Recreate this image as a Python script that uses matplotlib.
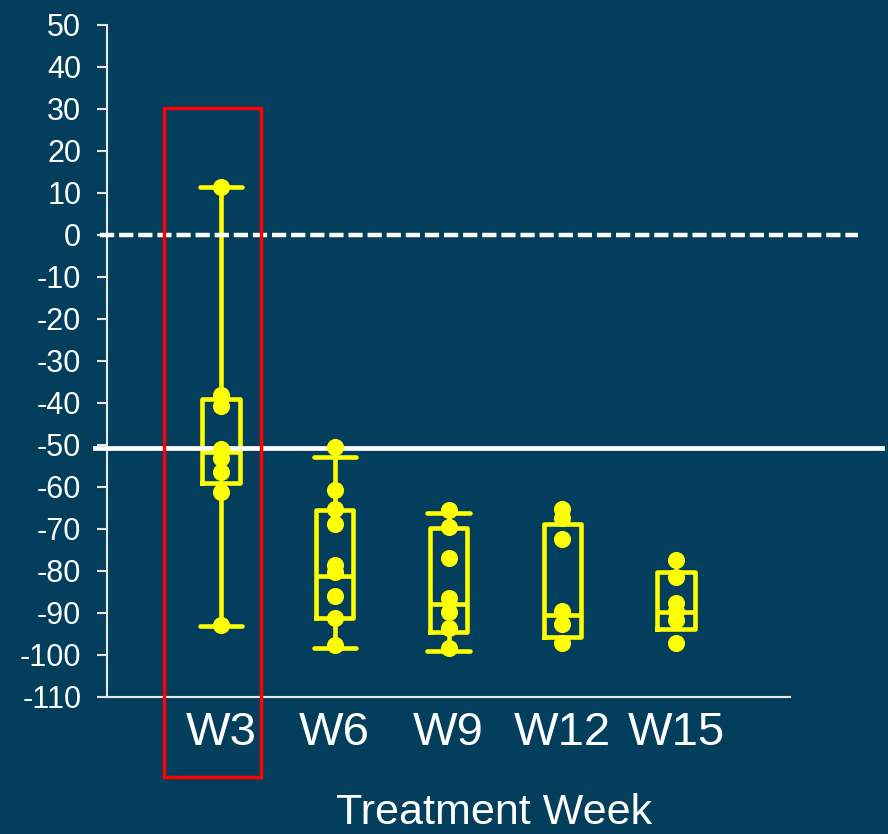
import matplotlib
matplotlib.use("Agg")
import matplotlib.pyplot as plt
from matplotlib.patches import Rectangle

plt.rcParams['font.family'] = ['Liberation Sans', 'DejaVu Sans']

weeks = ["W3", "W6", "W9", "W12", "W15"]

# individual patient values (% change) per week
pts_w3 = [11.4, -38.1, -40.8, -51.0, -53.1, -56.4, -61.2, -92.9]
pts_w6 = [-50.5, -60.8, -65.3, -68.9, -78.7, -80.2, -85.9, -91.3, -97.8]
pts_w9 = [-65.5, -69.5, -76.9, -86.5, -89.8, -93.6, -98.4]
pts_w12 = [-65.3, -67.4, -72.4, -89.7, -92.6, -97.2]
pts_w15 = [-77.4, -81.4, -87.7, -89.7, -91.7, -97.2]
points = [pts_w3, pts_w6, pts_w9, pts_w12, pts_w15]

# box statistics as drawn
q1 = [-59.0, -91.3, -94.5, -95.7, -93.9]
med = [-51.8, -81.2, -87.9, -90.5, -89.8]
q3 = [-39.1, -65.5, -69.8, -68.9, -80.4]
whislo = [-93.1, -98.5, -99.0, -95.7, -93.9]
whishi = [11.5, -52.8, -66.2, -68.9, -80.4]
has_whiskers = [True, True, True, False, False]

ref_zero = 0
ref_half = -50.8

yticks = list(range(-110, 51, 10))

bg = '#033f5c'
yellow = '#ffff00'

fig = plt.figure(figsize=(8.88, 8.34), dpi=100, facecolor=bg)
ax = fig.add_axes([107/888, 1-696.7/834, (790-107)/888, (696.7-25)/834])
ax.set_facecolor(bg)

stats = []
for i in range(len(weeks)):
    stats.append(dict(med=med[i], q1=q1[i], q3=q3[i],
                      whislo=whislo[i], whishi=whishi[i], fliers=[]))

positions = list(range(1, len(weeks)+1))
lw = 3.3
res = ax.bxp(stats, positions=positions, widths=0.33, capwidths=0.37,
             showfliers=False, patch_artist=False,
             boxprops=dict(color=yellow, linewidth=lw),
             medianprops=dict(color=yellow, linewidth=lw),
             whiskerprops=dict(color=yellow, linewidth=lw),
             capprops=dict(color=yellow, linewidth=lw, solid_capstyle='round'))
for i, hw in enumerate(has_whiskers):
    if not hw:
        for art in res['caps'][2*i:2*i+2] + res['whiskers'][2*i:2*i+2]:
            art.set_visible(False)

for i, p in enumerate(points):
    ax.plot([positions[i]]*len(p), p, 'o', color=yellow, markersize=12.3,
            markeredgewidth=0, zorder=5)

ax.axhline(ref_zero, xmin=-0.01, xmax=1.10, color='white', linewidth=3.2,
           linestyle=(0, (3.2, 1.1)), clip_on=False, zorder=3)
ax.axhline(ref_half, xmin=-0.018, xmax=1.135, color='white', linewidth=3.4,
           clip_on=False, zorder=3)

ax.set_xlim(0, 6)
ax.set_ylim(-110, 50)
ax.set_yticks(yticks)
ax.set_yticklabels([str(v) for v in yticks])
ax.set_xticks(positions)
ax.set_xticklabels(weeks)

for s in ['top', 'right']:
    ax.spines[s].set_visible(False)
for s in ['left', 'bottom']:
    ax.spines[s].set_color('#e8e8e8')
    ax.spines[s].set_linewidth(1.5)

ax.tick_params(axis='y', colors='#e8e8e8', labelcolor='white', labelsize=22,
               length=7.5, width=1.5, pad=11)
ax.tick_params(axis='x', length=0, labelcolor='white', labelsize=34, pad=10)

fig.text(494/888, 1-813/834, "Treatment Week", color='white', fontsize=31,
         ha='center', va='center')

fig.patches.append(Rectangle((164/888, 1-777/834), (261-164)/888, (777-108)/834,
                             transform=fig.transFigure, fill=False,
                             edgecolor='#ff0000', linewidth=2.5, zorder=10))

fig.savefig('out.png', dpi=100, facecolor=bg)
